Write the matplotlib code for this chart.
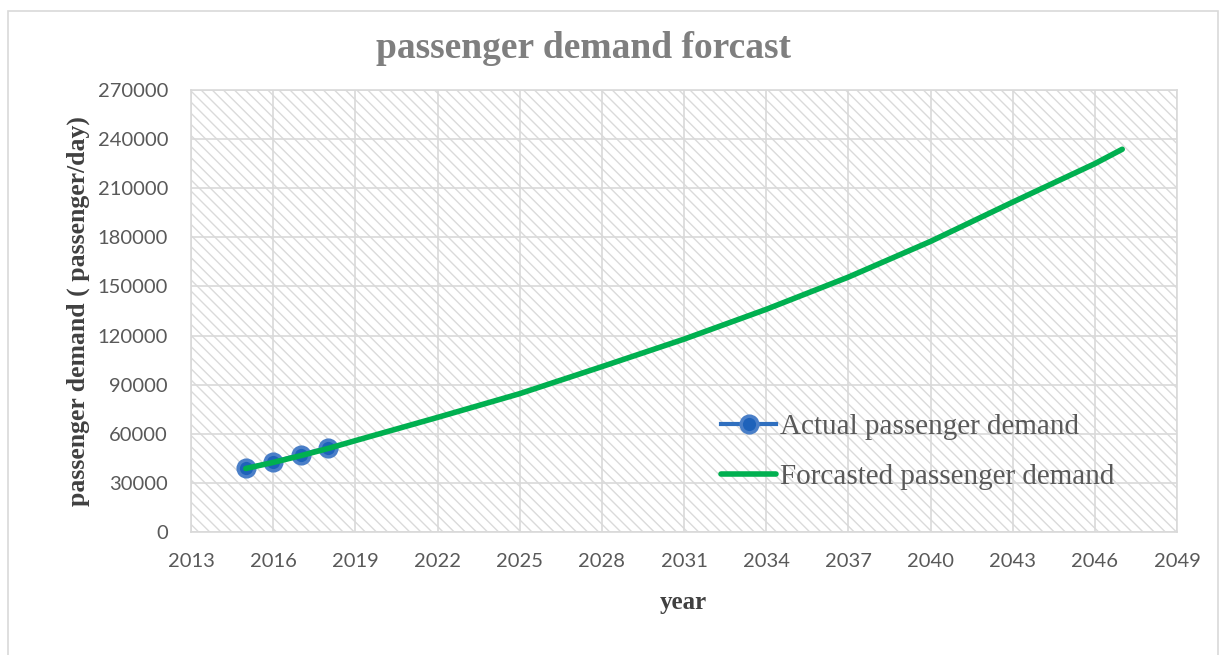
import matplotlib.pyplot as plt
import matplotlib.patches as mpatches
import numpy as np

# observed demand
actual_years = [2015, 2016, 2017, 2018]
actual_demand = [39000, 42700, 47300, 51300]

# forecast curve
forecast_years = [2015, 2016, 2017, 2018, 2019, 2022, 2025, 2028, 2031,
                  2034, 2037, 2040, 2043, 2046, 2047]
forecast_demand = [38800, 42500, 46600, 51000, 55800, 70000, 84500, 101000,
                   117800, 136000, 155700, 177500, 201500, 225000, 233800]

x_ticks = np.arange(2013, 2050, 3)
y_ticks = np.arange(0, 270001, 30000)

plt.rcParams['hatch.linewidth'] = 1.0
serif = 'Liberation Serif'

fig = plt.figure(figsize=(12.22, 6.55), dpi=100)
ax = fig.add_axes([191/1222, 1 - 532/655, (1177 - 191)/1222, (532 - 90)/655])

# hatched plot area
ax.patch.set_facecolor('white')
ax.patch.set_hatch('\\\\\\')
ax.patch.set_edgecolor('#dadada')
ax.patch.set_linewidth(0)

ax.plot(actual_years, actual_demand, color='#2f6fbf', lw=3, marker='o',
        markersize=12, markerfacecolor='#1e62ba', markeredgecolor='#4a7fc8',
        markeredgewidth=2.5, label='Actual passenger demand', zorder=3)
ax.plot(forecast_years, forecast_demand, color='#00b050', lw=4,
        solid_capstyle='round', label='Forcasted passenger demand', zorder=4)

ax.set_xlim(2013, 2049)
ax.set_ylim(0, 270000)
ax.set_xticks(x_ticks)
ax.set_yticks(y_ticks)
ax.grid(True, color='#d9d9d9', lw=1.2, zorder=1)
ax.set_axisbelow(True)
for s in ax.spines.values():
    s.set_color('#d9d9d9')
    s.set_linewidth(1.2)
ax.tick_params(length=0, labelsize=14.5, labelcolor='#595959')
ax.tick_params(axis='y', pad=16.5)
ax.tick_params(axis='x', pad=15)
for lab in ax.get_xticklabels() + ax.get_yticklabels():
    lab.set_fontfamily('Lato')

fig.text(584/1222, 1 - 48/655, 'passenger demand forcast', ha='center',
         va='center', fontsize=27, fontweight='bold', color='#7f7f7f',
         family=serif)
fig.text(78/1222, 1 - 311/655, 'passenger demand ( passenger/day)',
         ha='center', va='center', rotation=90, fontsize=18.5,
         fontweight='bold', color='#404040', family=serif)
fig.text(683/1222, 1 - 602/655, 'year', ha='center', va='center',
         fontsize=18, fontweight='bold', color='#404040', family=serif)

leg = ax.legend(loc='upper left', bbox_to_anchor=(721/1222, 1 - 414/655),
                bbox_transform=fig.transFigure, frameon=False, numpoints=1,
                handlelength=1.9, handletextpad=0.14, labelspacing=0.79,
                borderpad=0, borderaxespad=0,
                prop={'family': serif, 'size': 21})
for t in leg.get_texts():
    t.set_color('#595959')

# chart border
fig.patches.append(mpatches.Rectangle((8/1222, -0.01), 1210/1222, 1 - 11/655 + 0.01,
                                      transform=fig.transFigure, fill=False,
                                      edgecolor='#d9d9d9', lw=1.2))

fig.savefig('out.png', dpi=100)
